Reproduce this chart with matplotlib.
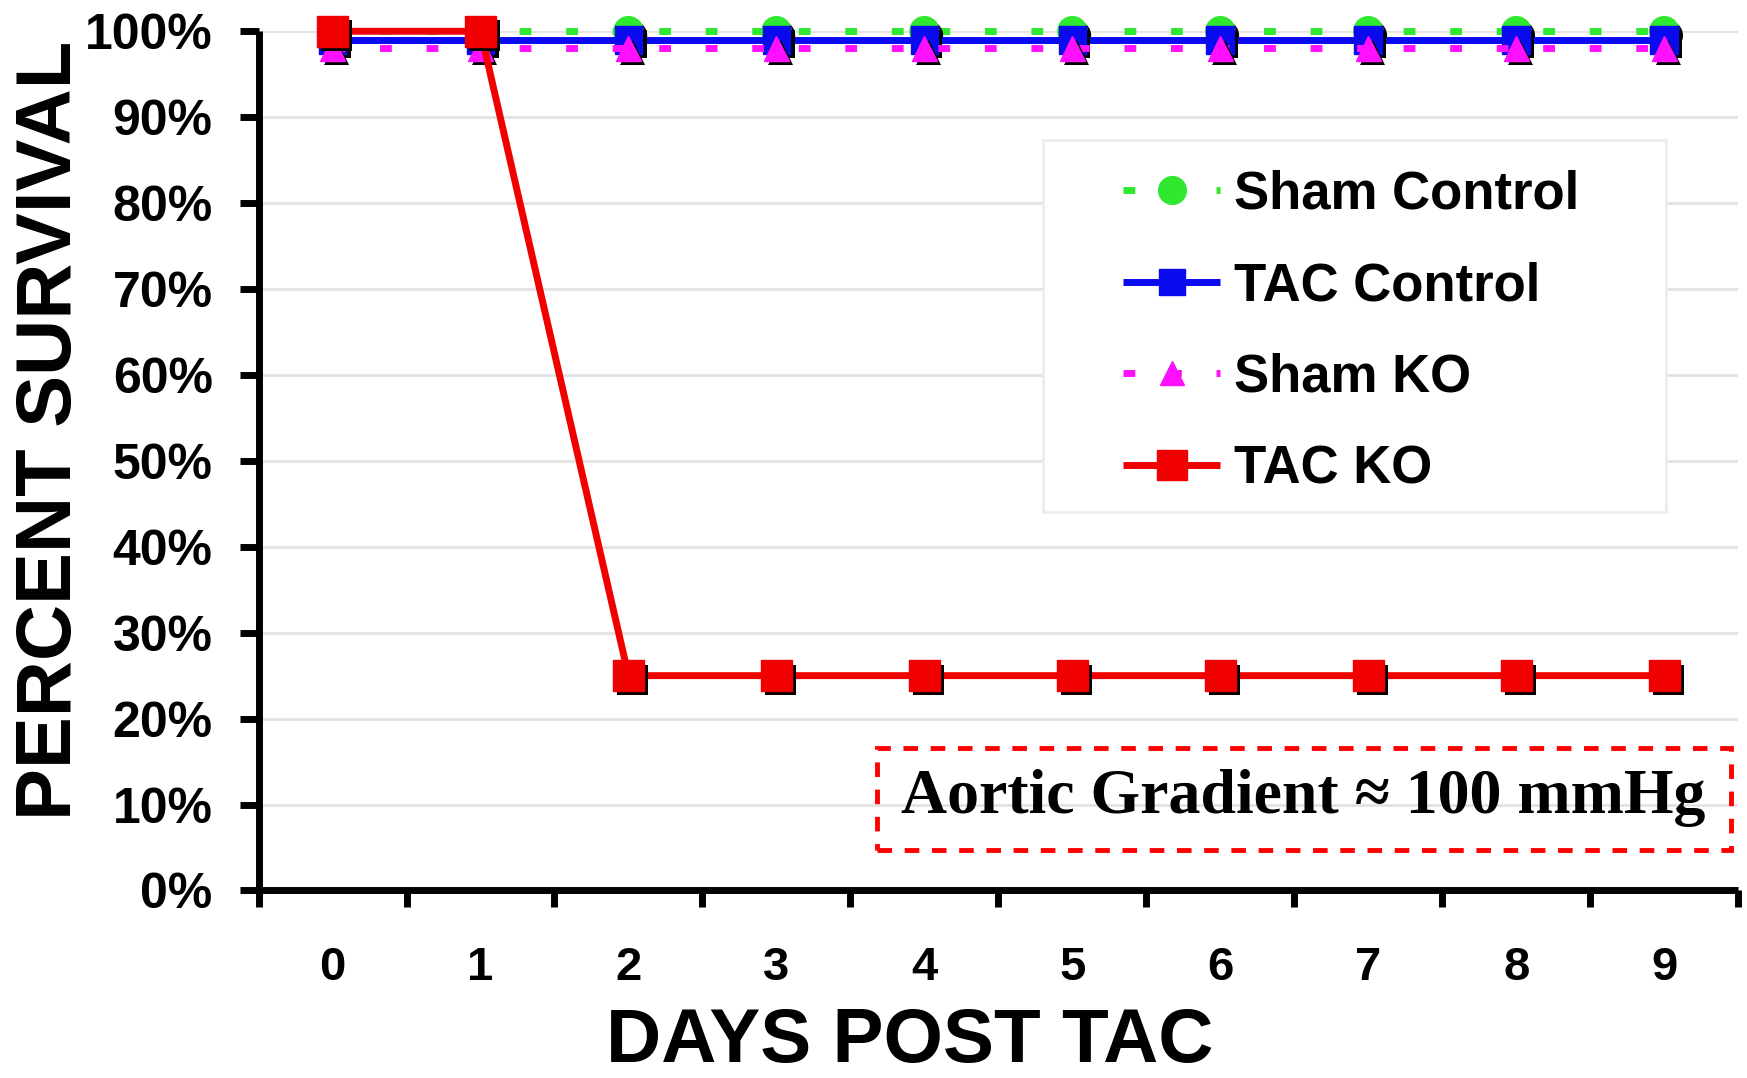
import matplotlib
matplotlib.use("Agg")
import matplotlib.pyplot as plt
import matplotlib.patheffects as pe
from matplotlib.patches import Rectangle
from matplotlib.ticker import FixedLocator, FuncFormatter

# ---- data ----
days = [0, 1, 2, 3, 4, 5, 6, 7, 8, 9]
sham_control = [100, 100, 100, 100, 100, 100, 100, 100, 100, 100]
tac_control = [99, 99, 99, 99, 99, 99, 99, 99, 99, 99]
sham_ko = [98, 98, 98, 98, 98, 98, 98, 98, 98, 98]
tac_ko = [100, 100, 25, 25, 25, 25, 25, 25, 25, 25]
series_labels = ["Sham Control", "TAC Control", "Sham KO", "TAC KO"]
y_ticks = [0, 10, 20, 30, 40, 50, 60, 70, 80, 90, 100]
annotation = "Aortic Gradient \u2248 100 mmHg"

plt.rcParams['font.family'] = ['Liberation Sans', 'DejaVu Sans']

fig = plt.figure(figsize=(17.47, 10.78), dpi=100)
ax = fig.add_axes([0.148, 0.174, 0.847, 0.797])

ax.set_xlim(-0.5, 9.5)
ax.set_ylim(0, 100)

# grid
for yv in y_ticks[1:]:
    ax.axhline(yv, color='#e2e2e2', lw=2, zorder=0)

dotted = (0, (1.7, 5.0))
styles = [
    dict(data=sham_control, color='#2fe82f', ls=dotted, marker='o', ms=21),
    dict(data=tac_control, color='#0a0aee', ls='-', marker='s', ms=20),
    dict(data=sham_ko, color='#ff10ff', ls=dotted, marker='^', ms=18),
    dict(data=tac_ko, color='#f00000', ls='-', marker='s', ms=22),
]

shadow = [pe.SimplePatchShadow(offset=(3, -3), shadow_rgbFace='black', alpha=1.0), pe.Normal()]
handles = []
z = 3
for st, lab in zip(styles, series_labels):
    ax.plot(days, st['data'], color=st['color'], ls=st['ls'], lw=5,
            solid_capstyle='butt', dash_capstyle='butt', zorder=z, clip_on=False)
    ax.plot(days, st['data'], ls='none', marker=st['marker'], ms=st['ms'],
            color=st['color'], mec=st['color'], zorder=z + 0.5, clip_on=False,
            path_effects=shadow)
    h, = ax.plot([], [], color=st['color'], ls=st['ls'], lw=5, marker=st['marker'],
                 ms=st['ms'] * 0.95, mec=st['color'], label=lab,
                 solid_capstyle='butt', dash_capstyle='butt')
    handles.append(h)
    z += 1

# spines / ticks
for s in ['top', 'right']:
    ax.spines[s].set_visible(False)
for s in ['left', 'bottom']:
    ax.spines[s].set_linewidth(5)
    ax.spines[s].set_capstyle('butt')

ax.set_yticks(y_ticks)
ax.yaxis.set_major_formatter(FuncFormatter(lambda v, p: f"{int(v)}%"))
ax.tick_params(axis='y', length=14, width=5, pad=19, labelsize=36)
ax.set_xticks(days)
ax.xaxis.set_minor_locator(FixedLocator([d - 0.5 for d in days] + [9.5]))
ax.tick_params(axis='x', which='major', length=0, pad=40, labelsize=34)
ax.tick_params(axis='x', which='minor', length=12, width=5)
for lbl in ax.get_xticklabels() + ax.get_yticklabels():
    lbl.set_fontweight('bold')

ax.set_xlabel("DAYS POST TAC", fontsize=55, fontweight='bold')
ax.xaxis.set_label_coords(0.44, -0.136)
ax.set_ylabel("PERCENT SURVIVAL", fontsize=56, fontweight='bold')
ax.yaxis.set_label_coords(-0.116, 0.535)

# legend box
ax.add_patch(Rectangle((0.530, 0.440), 0.421, 0.434, transform=ax.transAxes,
                       facecolor='white', edgecolor='#ececec', lw=2, zorder=1))
leg = ax.legend(handles=handles, loc='center left', bbox_to_anchor=(0.584, 0.650),
                frameon=False, handlelength=1.85, handletextpad=0.25,
                labelspacing=0.79, borderpad=0, borderaxespad=0,
                prop=dict(weight='bold', size=38))

# annotation box
ax.add_patch(Rectangle((0.418, 0.047), 0.577, 0.119, transform=ax.transAxes,
                       facecolor='none', edgecolor='#ff0000', lw=3.5,
                       ls=(0, (3.0, 2.6)), zorder=6, clip_on=False))
ax.text(0.706, 0.108, annotation, transform=ax.transAxes, ha='center', va='center',
        fontsize=46, fontweight='bold', family=['Liberation Serif', 'DejaVu Serif'],
        zorder=7)

fig.savefig("out.png", dpi=100)
